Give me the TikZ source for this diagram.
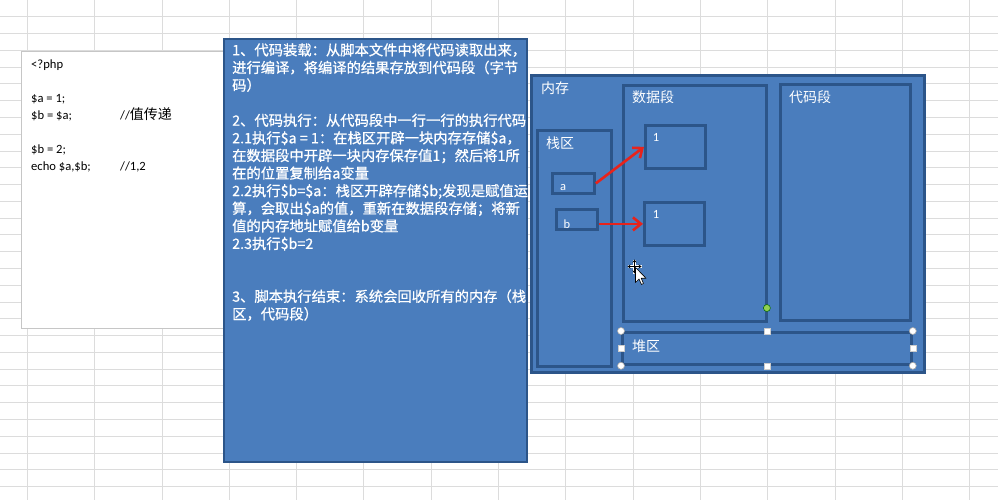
\documentclass[tikz,border=0pt]{standalone}
\usepackage{fontspec}
\setmainfont{Carlito}
\newfontfamily\cjk{Noto Sans CJK SC}
\newfontfamily\cjknote[FakeBold=0.8]{Noto Sans CJK SC}
\usetikzlibrary{arrows.meta,calc,positioning}
\definecolor{panelblue}{HTML}{4A7DBD}
\definecolor{paneledge}{HTML}{2C5589}
\definecolor{gridgray}{HTML}{DCDCDC}
\definecolor{arrowred}{HTML}{E8231B}
\definecolor{rotgreen}{HTML}{92D050}
\tikzstyle{gridline}=[draw=gridgray, line width=0.9pt]
\tikzstyle{panel}=[draw=paneledge, fill=panelblue, line width=2.2pt, inner sep=0pt, anchor=north west]
\tikzstyle{membox}=[draw=paneledge, line width=2.8pt, inner sep=0pt, anchor=north west]
\tikzstyle{boxlabel}=[text=white, font=\cjk\fontsize{14}{16}\selectfont, inner sep=0pt, anchor=west]
\tikzstyle{varlabel}=[text=white, font=\fontsize{12.5}{14}\selectfont, inner sep=0pt]
\tikzstyle{notetext}=[text=white, font=\cjknote\fontsize{14.3}{17.6}\selectfont, align=left, inner sep=0pt, anchor=north west]
\tikzstyle{codetext}=[text=black, font=\fontsize{12.6}{17}\selectfont, align=left, inner sep=0pt, anchor=north west]
\tikzstyle{ptr}=[draw=arrowred, line width=2.6pt, -{Straight Barb[length=8pt,width=13pt]}]
\tikzstyle{roundhandle}=[circle, draw=gray!70, fill=white, line width=0.6pt, minimum size=7pt, inner sep=0pt]
\tikzstyle{squarehandle}=[rectangle, draw=gray!40, fill=white, line width=0.4pt, minimum size=6pt, inner sep=0pt]
\newcommand{\memrect}[5]{\node[membox, minimum width=#4pt, minimum height=#5pt] (#1) at (#2,#3) {};}
\newcommand{\cmt}[2]{\makebox[89pt][l]{#1}#2}

\begin{document}
\begin{tikzpicture}[x=1pt, y=-1pt]
        \useasboundingbox (0,0) rectangle (998,500);
        \fill[white] (0,0) rectangle (998,500);
        % sheet grid
        \foreach \k in {0,...,14}
            \draw[gridline] ({27.4+67.3*\k},0) -- ++(0,500);
        \foreach \k in {1,...,29}
            \draw[gridline] (0,{16.78*\k}) -- ++(998,0);

        % php script
        \node[draw=gray!45, fill=white, line width=1pt, inner sep=0pt, anchor=north west,
            minimum width=209pt, minimum height=277pt] (script) at (21,51) {};
        \node[codetext] (code) at ($(script.north west)+(10,9)$) {%
            <?php\\[17pt]
            \$a = 1;\\
            \cmt{\$b = \$a;}{//{\cjk\fontsize{14}{17}\selectfont 值传递}}\\[17pt]
            \$b = 2;\\
            \cmt{echo \$a,\$b;}{//1,2}};

        % notes panel
        \node[panel, minimum width=303pt, minimum height=423pt] (notes) at (223,38) {};
        \node[notetext] (steps) at ($(notes.north west)+(9,5)$) {%
            1、代码装载：从脚本文件中将代码读取出来，\\
            进行编译，将编译的结果存放到代码段（字节\\
            码）\\[17.6pt]
            2、代码执行：从代码段中一行一行的执行代码\\
            2.1执行\$a = 1：在栈区开辟一块内存存储\$a，\\
            在数据段中开辟一块内存保存值1；然后将1所\\
            在的位置复制给a变量\\
            2.2执行\$b=\$a：栈区开辟存储\$b;发现是赋值运\\
            算，会取出\$a的值，重新在数据段存储；将新\\
            值的内存地址赋值给b变量\\
            2.3执行\$b=2\\[35.2pt]
            3、脚本执行结束：系统会回收所有的内存（栈\\
            区，代码段）};

        % memory layout
        \node[panel, line width=2.8pt, minimum width=393pt, minimum height=297pt] (memory) at (530,74) {};
        \memrect{stack}{536}{129}{74}{236}
        \memrect{data}{622}{84}{143}{236}
        \memrect{codeseg}{779}{83}{130}{236}
        \memrect{heap}{621}{331}{289}{32}
        \memrect{val1}{644}{124}{60}{43}
        \memrect{val2}{643}{201}{60}{43}
        \memrect{vara}{551}{172}{42}{20}
        \memrect{varb}{555}{208}{41}{20}

        \node[boxlabel] (memlbl) at ($(memory.north west)+(11,14)$) {内存};
        \node[boxlabel] (stacklbl) at ($(stack.north west)+(10,14)$) {栈区};
        \node[boxlabel] (datalbl) at ($(data.north west)+(10,13)$) {数据段};
        \node[boxlabel] (codelbl) at ($(codeseg.north west)+(10,14)$) {代码段};
        \node[boxlabel] (heaplbl) at ($(heap.west)+(11,-2)$) {堆区};

        \node[varlabel] (alab) at ($(vara.south west)+(12,-7)$) {a};
        \node[varlabel] (blab) at ($(varb.south west)+(12,-7)$) {b};
        \node[varlabel] (v1lab) at ($(val1.north west)+(12,13)$) {1};
        \node[varlabel] (v2lab) at ($(val2.north west)+(13,13)$) {1};

        \draw[ptr] (vara.east) -- (val1.west);
        \draw[ptr] (varb.east |- val2.west) -- (val2.west);

        % selection handles on heap
        \node[circle, draw=green!40!black, fill=rotgreen, line width=0.5pt, minimum size=7pt, inner sep=0pt]
            (rot) at ($(heap.north)+(0,-23)$) {};
        \foreach \p in {north, south, west, east}
            \node[squarehandle] at (heap.\p) {};
        \foreach \p in {north west, north east, south west, south east}
            \node[roundhandle] at (heap.\p) {};

        % mouse cursor
        \coordinate (mouse) at (634.5,266.5);
        \draw[white, line width=2.4pt] ($(mouse)+(-7,0)$) -- ($(mouse)+(7,0)$)
            ($(mouse)+(0,-7)$) -- ($(mouse)+(0,7)$);
        \draw[black, line width=1pt, {Stealth[length=3pt,width=4pt]}-{Stealth[length=3pt,width=4pt]}]
            ($(mouse)+(-7,0)$) -- ($(mouse)+(7,0)$);
        \draw[black, line width=1pt, {Stealth[length=3pt,width=4pt]}-{Stealth[length=3pt,width=4pt]}]
            ($(mouse)+(0,-7)$) -- ($(mouse)+(0,7)$);
        \draw[black, fill=white, line width=0.6pt, line join=round]
            ($(mouse)+(1,1)$) -- ++(0,15) -- ++(3.5,-3.5) -- ++(2.5,5.5) -- ++(2,-1)
            -- ++(-2.3,-5.3) -- ++(4.8,0) -- cycle;
\end{tikzpicture}
\end{document}
